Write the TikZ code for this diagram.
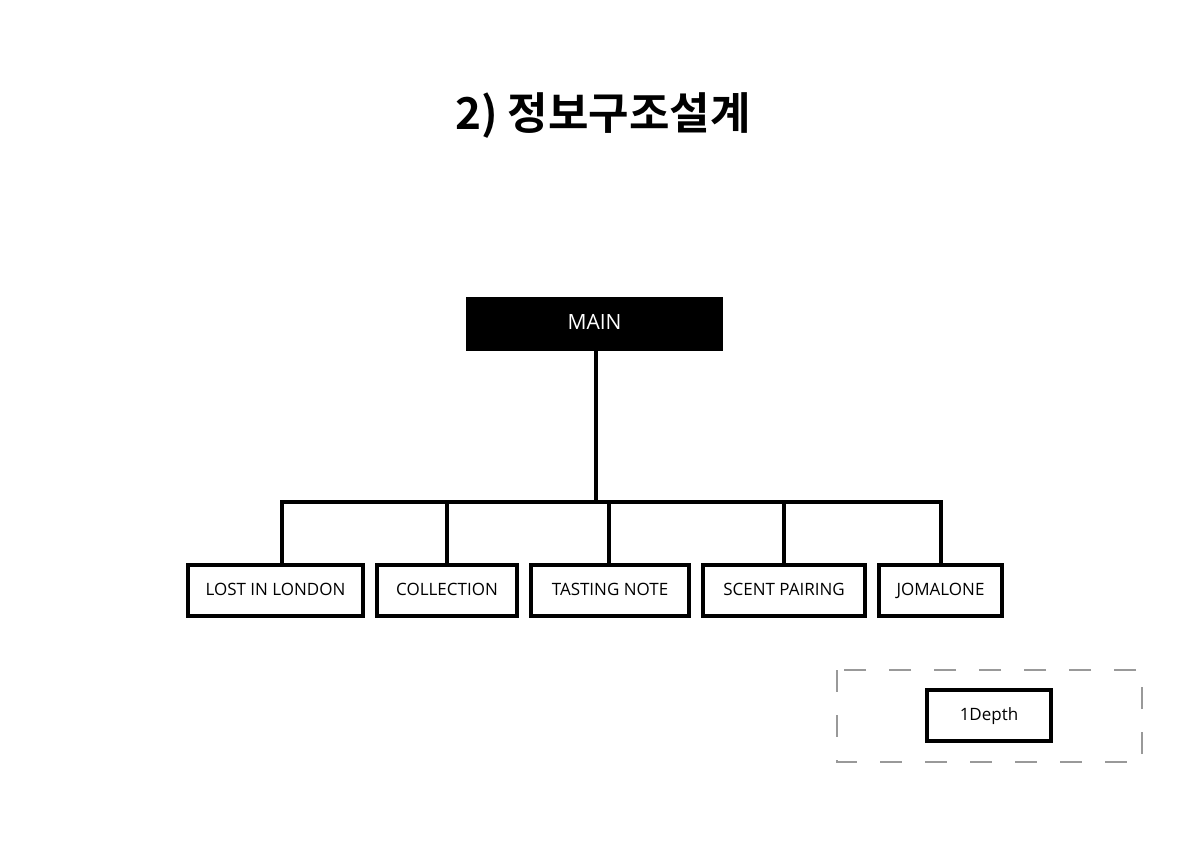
\documentclass[tikz,border=0pt]{standalone}
\usepackage{fontspec}
\setmainfont{Open Sans}
\newfontfamily\krfont{Noto Sans CJK KR}[BoldFont={* Bold}]
\begin{document}
\begin{tikzpicture}[x=1pt,y=-1pt,
  leaf/.style={draw=black,line width=3.5pt,fill=white,inner sep=0pt,text height=12pt,text depth=3pt,font=\fontsize{17}{20}\selectfont},
  link/.style={line width=3.5pt,draw=black}]
\useasboundingbox (0,0) rectangle (1191,843);
\fill[white] (0,0) rectangle (1191,843);
\node[font=\krfont\bfseries\fontsize{44}{48}\selectfont] (title) at (603,116) {2) 정보구조설계};
\node[fill=black,text=white,minimum width=257pt,minimum height=54pt,inner sep=0pt,text height=14pt,text depth=3pt,font=\fontsize{21}{24}\selectfont] (main) at (594.5,324) {MAIN};
\node[leaf,minimum width=175pt,minimum height=51pt] (b1) at (275.5,590.5) {LOST IN LONDON};
\node[leaf,minimum width=140pt,minimum height=51pt] (b2) at (447,590.5) {COLLECTION};
\node[leaf,minimum width=158pt,minimum height=51pt] (b3) at (610,590.5) {TASTING NOTE};
\node[leaf,minimum width=162pt,minimum height=51pt] (b4) at (784,590.5) {SCENT PAIRING};
\node[leaf,minimum width=123pt,minimum height=51pt] (b5) at (940.5,590.5) {JOMALONE};
\coordinate (bus) at (596,502);
\draw[link] (main.south -| bus) -- (bus);
\draw[link,line cap=rect] (282,502) coordinate (l) -- (941,502) coordinate (r);
\draw[link] (l) -- (l |- b1.north);
\draw[link] (447,502) -- (b2.north);
\draw[link] (609,502) -- (609,0 |- b3.north);
\draw[link] (b4.north |- bus) -- (b4.north);
\draw[link] (r) -- (r |- b5.north);
\draw[gray!80,line width=1.3pt,dash pattern=on 22pt off 23pt] (837,670) rectangle (1142,762);
\node[leaf,line width=4pt,minimum width=124pt,minimum height=51pt,font=\fontsize{17}{20}\selectfont] (legend) at (989,715.5) {1Depth};
\end{tikzpicture}
\end{document}
